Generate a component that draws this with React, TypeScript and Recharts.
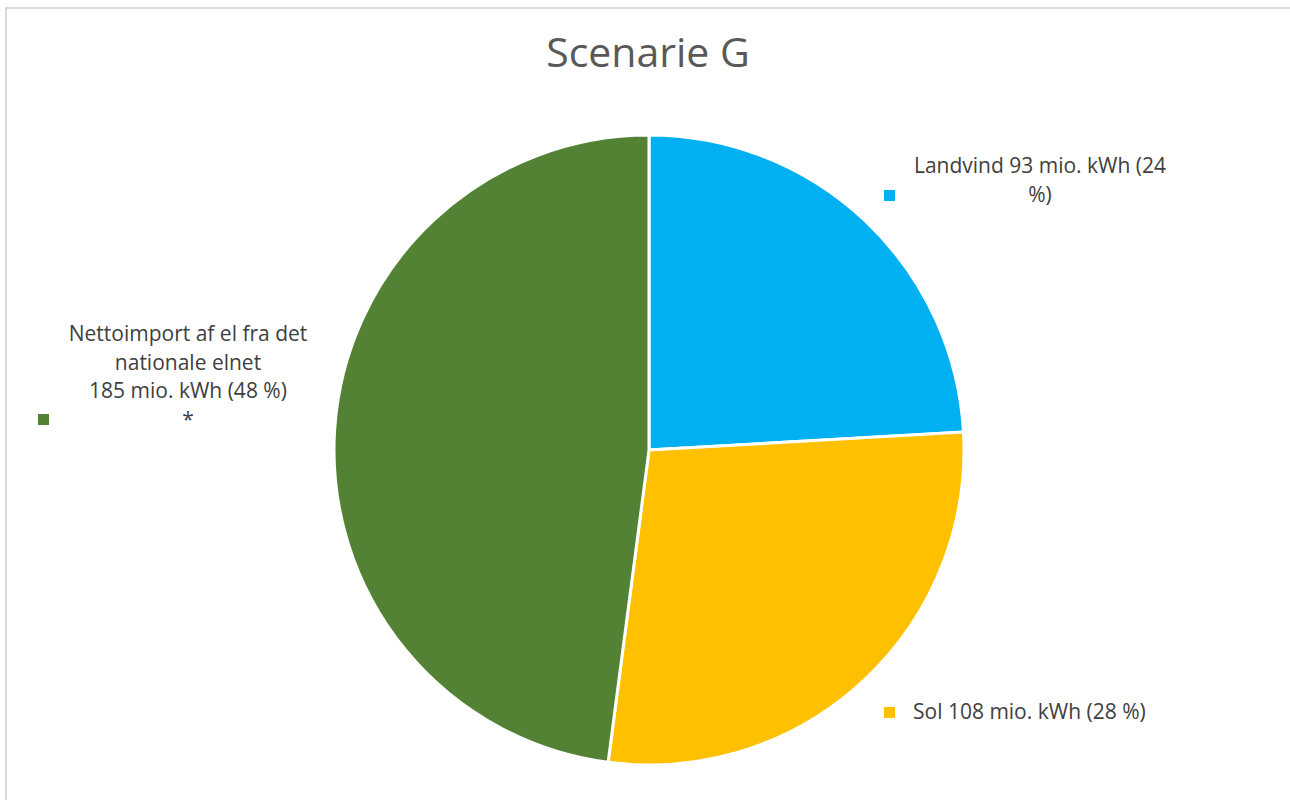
import React from "react";
import { PieChart, Pie, Cell } from "recharts";

const categories = ["Landvind", "Sol", "Nettoimport af el fra det nationale elnet"];
const values = [93, 108, 185];
const percents = [24, 28, 48];
const colors = ["#00B0F0", "#FFC000", "#548235"];

const data = categories.map((name, i) => ({ name, value: values[i], pct: percents[i] }));

const FONT = "'Open Sans', 'Liberation Sans', sans-serif";
const TEXT = "#404040";
const LS = 21;

const renderLabel = (props: any) => {
  const { cx, cy, index } = props;
  const v = values[index];
  const p = percents[index];
  const color = colors[index];
  if (index === 0) {
    return (
      <g key="l0">
        <rect x={cx + 235} y={cy - 260} width={11} height={11} fill={color} />
        <text x={cx + 391} y={cy - 277} textAnchor="middle" fontFamily={FONT} fontSize={LS} fill={TEXT}>
          <tspan x={cx + 391} dy={0}>{`${categories[0]} ${v} mio. kWh (${p}`}</tspan>
          <tspan x={cx + 391} dy={28.5}>%)</tspan>
        </text>
      </g>
    );
  }
  if (index === 1) {
    return (
      <g key="l1">
        <rect x={cx + 235} y={cy + 257} width={11} height={11} fill={color} />
        <text x={cx + 264} y={cy + 269} textAnchor="start" fontFamily={FONT} fontSize={LS} fill={TEXT}>
          {`${categories[1]} ${v} mio. kWh (${p} %)`}
        </text>
      </g>
    );
  }
  return (
    <g key="l2">
      <rect x={cx - 611} y={cy - 36} width={11} height={11} fill={color} />
      <text x={cx - 461} y={cy - 109} textAnchor="middle" fontFamily={FONT} fontSize={LS} fill={TEXT}>
        <tspan x={cx - 461} dy={0}>Nettoimport af el fra det</tspan>
        <tspan x={cx - 461} dy={28.5}>nationale elnet</tspan>
        <tspan x={cx - 461} dy={28.5}>{`${v} mio. kWh (${p} %)`}</tspan>
        <tspan x={cx - 461} dy={28.5}>*</tspan>
      </text>
    </g>
  );
};

export default function App() {
  return (
    <div style={{ position: "absolute", left: 0, top: 0, width: 1290, height: 800, background: "#fff", overflow: "hidden" }}>
      <div
        style={{
          position: "absolute",
          left: 5,
          top: 7,
          width: 1300,
          height: 820,
          borderLeft: "2px solid #D9D9D9",
          borderTop: "2px solid #D9D9D9",
        }}
      />
      <div style={{ position: "absolute", left: 0, top: 0 }}>
        <PieChart width={1290} height={800} margin={{ top: 0, right: 0, bottom: 0, left: 0 }}>
          <text x={648} y={67} textAnchor="middle" fontFamily={FONT} fontSize={41} fill="#595959">
            Scenarie G
          </text>
          <Pie
            data={data}
            dataKey="value"
            nameKey="name"
            cx={649}
            cy={450}
            outerRadius={315}
            startAngle={90}
            endAngle={-270}
            stroke="#FFFFFF"
            strokeWidth={3}
            label={renderLabel}
            labelLine={false}
            isAnimationActive={false}
          >
            {data.map((d, i) => (
              <Cell key={d.name} fill={colors[i]} />
            ))}
          </Pie>
        </PieChart>
      </div>
    </div>
  );
}
